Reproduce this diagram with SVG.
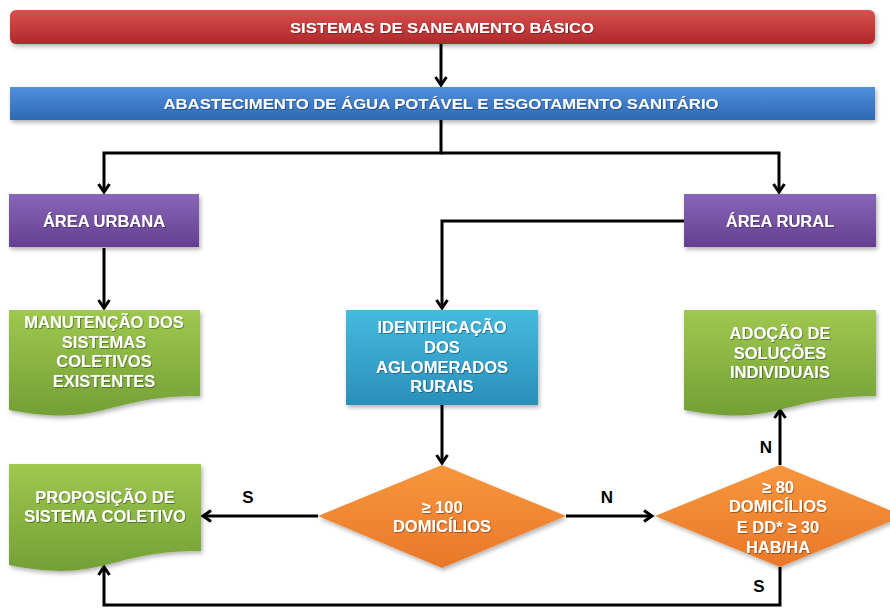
<svg xmlns="http://www.w3.org/2000/svg" width="890" height="608" viewBox="0 0 890 608">
<defs>
<linearGradient id="gRed" x1="0" y1="0" x2="0" y2="1"><stop offset="0" stop-color="#d9504d"/><stop offset="1" stop-color="#b0282a"/></linearGradient>
<linearGradient id="gBlue" x1="0" y1="0" x2="0" y2="1"><stop offset="0" stop-color="#4f90dc"/><stop offset="1" stop-color="#2f68b4"/></linearGradient>
<linearGradient id="gPurple" x1="0" y1="0" x2="0" y2="1"><stop offset="0" stop-color="#8866b8"/><stop offset="1" stop-color="#653f90"/></linearGradient>
<linearGradient id="gGreen" x1="0" y1="0" x2="0" y2="1"><stop offset="0" stop-color="#9fc84f"/><stop offset="1" stop-color="#73a036"/></linearGradient>
<linearGradient id="gCyan" x1="0" y1="0" x2="0" y2="1"><stop offset="0" stop-color="#45badf"/><stop offset="1" stop-color="#2a8fba"/></linearGradient>
<linearGradient id="gOrange" x1="0" y1="0" x2="0" y2="1"><stop offset="0" stop-color="#f7963c"/><stop offset="1" stop-color="#e9782a"/></linearGradient>
<filter id="sh" x="-10%" y="-10%" width="120%" height="130%"><feDropShadow dx="1.5" dy="2.5" stdDeviation="2" flood-color="#000" flood-opacity="0.3"/></filter>
<filter id="tsh" x="-10%" y="-30%" width="120%" height="160%"><feDropShadow dx="0.8" dy="0.8" stdDeviation="0.6" flood-color="#000" flood-opacity="0.45"/></filter>
<marker id="arr" markerUnits="userSpaceOnUse" markerWidth="16" markerHeight="16" refX="10" refY="7" orient="auto">
<path d="M2,1.5 L10,7 L2,12.5" fill="none" stroke="#000" stroke-width="3" stroke-linejoin="miter"/>
</marker>
<style>
.t{font-family:"Liberation Sans",Arial,sans-serif;font-weight:bold;fill:#fff;text-anchor:middle;filter:url(#tsh)}
.b{font-size:16.5px}
.h{font-size:15.5px}
.lbl{font-family:"Liberation Sans",Arial,sans-serif;font-weight:bold;fill:#000;font-size:17px;text-anchor:middle}
.c{fill:none;stroke:#000;stroke-width:3}
</style>
</defs>
<rect width="890" height="608" fill="#fff"/>

<g id="connectors">
<path class="c" d="M441,44 V85" marker-end="url(#arr)"/>
<path class="c" d="M441,120 V153 H104 V192" marker-end="url(#arr)"/>
<path class="c" d="M441,153 H779 V192" marker-end="url(#arr)"/>
<path class="c" d="M104,248 V308" marker-end="url(#arr)"/>
<path class="c" d="M684,221 H442 V308" marker-end="url(#arr)"/>
<path class="c" d="M442,405 V463" marker-end="url(#arr)"/>
<path class="c" d="M318,516 H203" marker-end="url(#arr)"/>
<path class="c" d="M566,516 H652" marker-end="url(#arr)"/>
<path class="c" d="M780,465 V410" marker-end="url(#arr)"/>
<path class="c" d="M780,567 V605 H104 V567" marker-end="url(#arr)"/>
<text class="lbl" x="248" y="503">S</text>
<text class="lbl" x="607" y="503">N</text>
<text class="lbl" x="766" y="453">N</text>
<text class="lbl" x="759" y="592">S</text>
</g>

<g id="sistemas">
<rect x="10" y="10" width="865" height="34" rx="6" fill="url(#gRed)" filter="url(#sh)"/>
<text class="t h" x="442" y="33" textLength="304" lengthAdjust="spacingAndGlyphs">SISTEMAS DE SANEAMENTO BÁSICO</text>
</g>

<g id="abastecimento">
<rect x="10" y="87" width="865" height="33" fill="url(#gBlue)" filter="url(#sh)"/>
<text class="t h" x="441" y="109" textLength="555" lengthAdjust="spacingAndGlyphs">ABASTECIMENTO DE ÁGUA POTÁVEL E ESGOTAMENTO SANITÁRIO</text>
</g>

<g id="area-urbana">
<rect x="9" y="194" width="190" height="53" fill="url(#gPurple)" filter="url(#sh)"/>
<text class="t b" x="104" y="227">ÁREA URBANA</text>
</g>

<g id="area-rural">
<rect x="684" y="194" width="192" height="53" fill="url(#gPurple)" filter="url(#sh)"/>
<text class="t b" x="780" y="227">ÁREA RURAL</text>
</g>

<g id="manutencao">
<path d="M9,310 H200 V396 C104.5,396 104.5,428 9,410 Z" fill="url(#gGreen)" filter="url(#sh)"/>
<text class="t b" x="104" y="328">MANUTENÇÃO DOS</text>
<text class="t b" x="104" y="348">SISTEMAS</text>
<text class="t b" x="104" y="367">COLETIVOS</text>
<text class="t b" x="104" y="387">EXISTENTES</text>
</g>

<g id="identificacao">
<rect x="346" y="310" width="192" height="95" fill="url(#gCyan)" filter="url(#sh)"/>
<text class="t b" x="442" y="333">IDENTIFICAÇÃO</text>
<text class="t b" x="442" y="353">DOS</text>
<text class="t b" x="442" y="373">AGLOMERADOS</text>
<text class="t b" x="442" y="392">RURAIS</text>
</g>

<g id="adocao">
<path d="M684,310 H876 V396 C780,396 780,428 684,410 Z" fill="url(#gGreen)" filter="url(#sh)"/>
<text class="t b" x="780" y="339">ADOÇÃO DE</text>
<text class="t b" x="780" y="359">SOLUÇÕES</text>
<text class="t b" x="780" y="378">INDIVIDUAIS</text>
</g>

<g id="proposicao">
<path d="M9,464 H201 V551 C105,551 105,584 9,565 Z" fill="url(#gGreen)" filter="url(#sh)"/>
<text class="t b" x="105" y="503">PROPOSIÇÃO DE</text>
<text class="t b" x="105" y="522">SISTEMA COLETIVO</text>
</g>

<g id="decisao-100">
<path d="M442,465 L566,516 L442,568 L318,516 Z" fill="url(#gOrange)" filter="url(#sh)"/>
<text class="t b" x="442" y="513">≥ 100</text>
<text class="t b" x="442" y="532">DOMICÍLIOS</text>
</g>

<g id="decisao-80">
<path d="M780,465 L904,516 L780,567 L655,516 Z" fill="url(#gOrange)" filter="url(#sh)"/>
<text class="t b" x="778" y="493">≥ 80</text>
<text class="t b" x="778" y="512">DOMICÍLIOS</text>
<text class="t b" x="778" y="533">E DD* ≥ 30</text>
<text class="t b" x="778" y="553">HAB/HA</text>
</g>
</svg>
